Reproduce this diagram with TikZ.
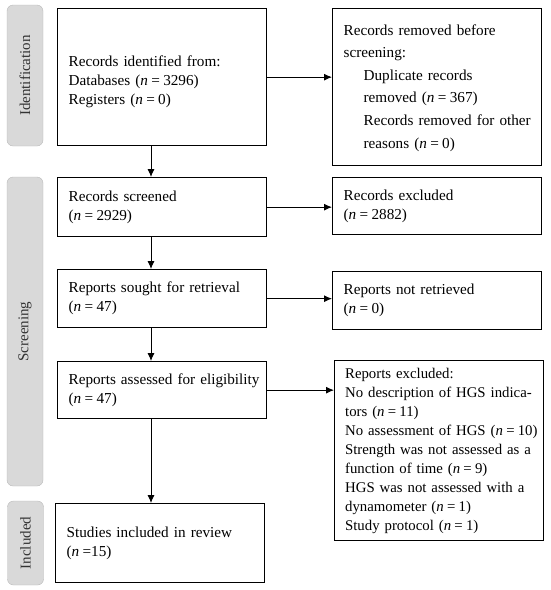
\documentclass[tikz,border=0pt]{standalone}
\usepackage{fontspec}
\setmainfont{Liberation Serif}
\usepackage{tikz}
\usetikzlibrary{arrows,arrows.meta,positioning,calc}

% n = value, with tight spacing
\newcommand{\nval}[1]{\textit{n}\hspace{0.22em}=\hspace{0.22em}#1}
% lines broken only where asked
\newcommand{\lines}[1]{\begin{tabular}{@{}l@{}}#1\end{tabular}}

\tikzset{
    box/.style={draw, line width=1.3pt, rectangle, anchor=north west, align=left,
        minimum width=209pt, text width=187pt, inner xsep=11pt,
        font=\fontsize{15.2}{19}\selectfont},
    stage/.style={draw=gray!55, fill=gray!30, text=black!80, rounded corners=6pt, rotate=90,
        minimum height=36pt, inner sep=0pt, font=\fontsize{15}{17}\selectfont},
    flow/.style={-{Latex[length=8pt,width=7pt]}, line width=0.9pt}
}

\begin{document}
\begin{tikzpicture}[x=1pt, y=-1pt]
    \useasboundingbox (0,0) rectangle (550,590);

    % stage labels
    \node[stage, minimum width=141pt] (lid) at (25,75.5) {Identification};
    \node[stage, minimum width=309pt] (lscr) at (25,331.5) {Screening};
    \node[stage, minimum width=84pt] (linc) at (25.5,543) {Included};

    % left column
    \node[box, minimum height=137pt, text depth=16pt] (ident) at (57,8)
        {\lines{Records identified from:\\ Databases (\nval{3296})\\ Registers (\nval{0})}};
    \node[box, minimum height=59pt] (screened) at (57,177)
        {\lines{Records screened\\ (\nval{2929})}};
    \node[box, minimum height=58pt] (sought) at (57,269)
        {\lines{Reports sought for retrieval\\ (\nval{47})}};
    \node[box, minimum height=57pt] (assessed) at (57,361)
        {\lines{Reports assessed for eligibility\\ (\nval{47})}};
    \node[box, minimum height=79pt] (included) at (55,503)
        {\lines{Studies included in review\\ (\textit{n}\hspace{0.22em}=15)}};

    % right column
    \node[box, minimum height=157pt, font=\fontsize{15.2}{22.6}\selectfont] (removed) at (332,8)
        {\lines{Records removed before\\ screening:\\
         \hspace*{20pt}Duplicate records\\
         \hspace*{20pt}removed (\nval{367})\\
         \hspace*{20pt}Records removed for other\\
         \hspace*{20pt}reasons (\nval{0})}};
    \node[box, minimum height=57pt] (excluded) at (332,177)
        {\lines{Records excluded\\ (\nval{2882})}};
    \node[box, minimum height=58pt] (notretr) at (332,271)
        {\lines{Reports not retrieved\\ (\nval{0})}};
    \node[box, minimum height=180pt, text width=188pt, inner xsep=10.5pt,
          font=\fontsize{14.8}{19}\selectfont] (rexcl) at (334,360)
        {\lines{Reports excluded:\\
         No description of HGS indica-\\ tors (\nval{11})\\
         No assessment of HGS (\nval{10})\\
         Strength was not assessed as a\\ function of time (\nval{9})\\
         HGS was not assessed with a\\ dynamometer (\nval{1})\\
         Study protocol (\nval{1})}};

    % connectors
    \coordinate (spine) at (151,0);
    \draw[flow] (ident.east) -- (ident.east -| removed.west);
    \draw[flow] (screened.east) -- (screened.east -| excluded.west);
    \draw[flow] (sought.east) -- (sought.east -| notretr.west);
    \draw[flow] (assessed.east) -- (assessed.east -| rexcl.west);
    \draw[flow] (ident.south -| spine) -- (screened.north -| spine);
    \draw[flow] (screened.south -| spine) -- (sought.north -| spine);
    \draw[flow] (sought.south -| spine) -- (assessed.north -| spine);
    \draw[flow] (assessed.south -| spine) -- (included.north -| spine);
\end{tikzpicture}
\end{document}
